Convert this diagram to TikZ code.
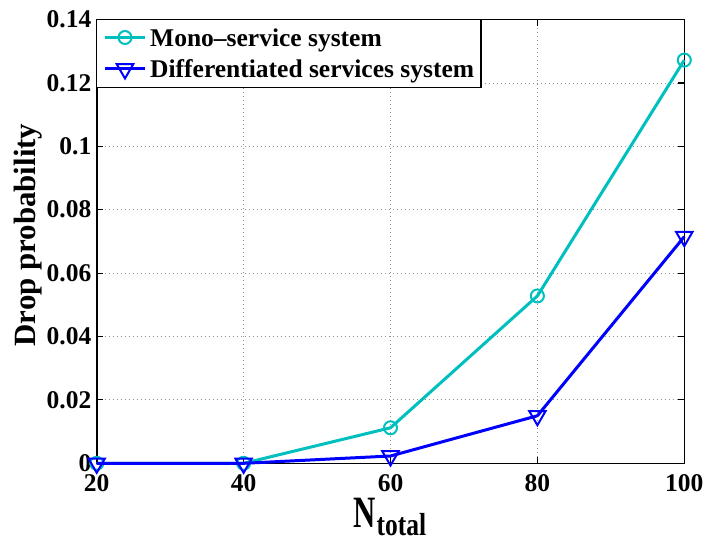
\documentclass[tikz,border=0pt]{standalone}
\usepackage{fontspec}
\setmainfont{Liberation Serif}
\usetikzlibrary{shapes.geometric,positioning}
\definecolor{monocyan}{RGB}{0,191,191}
\definecolor{diffblue}{RGB}{0,0,255}

\begin{document}
\begin{tikzpicture}
  [
    x=1bp, y=-1bp,
    Axis/.style={draw=black, line width=1.6bp},
    Grid/.style={draw=gray!85, line width=0.8bp, dash pattern=on 1bp off 3bp},
    Tick/.style={draw=black, line width=1.2bp},
    Label/.style={font=\fontsize{25.6}{30}\selectfont\bfseries, inner sep=0pt},
    Mono/.style={draw=monocyan, line width=3bp, line join=round},
    Diff/.style={draw=diffblue, line width=3bp, line join=round},
    Circ/.style={circle, draw=monocyan, line width=2bp, minimum size=13bp, inner sep=0pt},
    Tri/.style={regular polygon, regular polygon sides=3, shape border rotate=180, draw=diffblue, line width=2bp, minimum size=19bp, inner sep=0pt}
  ]
  \useasboundingbox (0,0) rectangle (705,539);

  % Axes
  \coordinate (sw) at (96.7,463.3);
  \coordinate (ne) at (684.3,19.7);

  % Grid
  \foreach \n in {40,60,80}
    \draw[Grid] ({96.7+(\n-20)*7.345},19.7) -- ({96.7+(\n-20)*7.345},463.3);
  \foreach \v in {0.02,0.04,...,0.121}
    \draw[Grid] (96.7,{463.3-\v*3170}) -- (684.3,{463.3-\v*3170});

  % Ticks
  \foreach \n in {40,60,80} {
    \draw[Tick] ({96.7+(\n-20)*7.345},463.3) -- ++(0,-6);
    \draw[Tick] ({96.7+(\n-20)*7.345},19.7) -- ++(0,6);
  }
  \foreach \v in {0.02,0.04,...,0.121} {
    \draw[Tick] (96.7,{463.3-\v*3170}) -- ++(6,0);
    \draw[Tick] (684.3,{463.3-\v*3170}) -- ++(-6,0);
  }
  \draw[Axis] (sw) rectangle (ne);

  % Tick labels
  \foreach \n in {20,40,...,100}
    \node[Label] (xt\n) at ({96.7+(\n-20)*7.345},483.5) {\n};
  \foreach \v/\t in {0/0,0.02/0.02,0.04/0.04,0.06/0.06,0.08/0.08,0.1/0.1,0.12/0.12,0.14/0.14}
    \node[Label, anchor=east] (yt\t) at (91.5,{463.3-\v*3170}) {\t};

  % Axis labels
  \node[font=\fontsize{31}{36}\selectfont\bfseries, inner sep=0pt, rotate=90] (ylabel) at (28,235) {Drop probability};
  \node[font=\fontsize{31}{36}\selectfont\bfseries, inner sep=0pt, anchor=base west] (xlabel) at (353,527) {\scalebox{1}[1.45]{N}};
  \node[font=\fontsize{25.6}{30}\selectfont\bfseries, inner sep=0pt, anchor=base west] (xsub) at (376.5,535.5) {\scalebox{1}[1.25]{total}};

  % Data
  \foreach \n/\v [count=\i] in {20/0,40/0,60/0.0112,80/0.0528,100/0.1272}
    \coordinate (m\i) at ({96.7+(\n-20)*7.345},{463.3-\v*3170});
  \foreach \n/\v [count=\i] in {20/0,40/0,60/0.0023,80/0.0150,100/0.0715}
    \coordinate (d\i) at ({96.7+(\n-20)*7.345},{463.3-\v*3170});

  % Lines
  \draw[Mono] (m1) -- (m2) -- (m3) -- (m4) -- (m5);
  \foreach \i in {1,...,5}
    \node[Circ] (mc\i) at (m\i) {};
  \draw[Diff] (d1) -- (d2) -- (d3) -- (d4) -- (d5);
  \foreach \i in {1,...,5}
    \node[Tri] (dt\i) at (d\i) {};

  % Legend
  \coordinate (lsw) at (96.7,87.7);
  \coordinate (lne) at (481,19.7);
  \draw[fill=white, draw=black, line width=1.4bp] (lsw) rectangle (lne);
  \coordinate (la1) at (105,37.5);
  \coordinate (lb1) at (145,37.5);
  \draw[Mono] (la1) -- (lb1);
  \node[Circ] (lmc) at (125,37.5) {};
  \node[Label, anchor=base west] (lmt) at (150,46.5) {Mono--service system};
  \coordinate (la2) at (105,69);
  \coordinate (lb2) at (145,69);
  \draw[Diff] (la2) -- (lb2);
  \node[Tri] (ldt) at (125,69) {};
  \node[Label, anchor=base west] (ldtx) at (150,78) {Differentiated services system};

\end{tikzpicture}
\end{document}
